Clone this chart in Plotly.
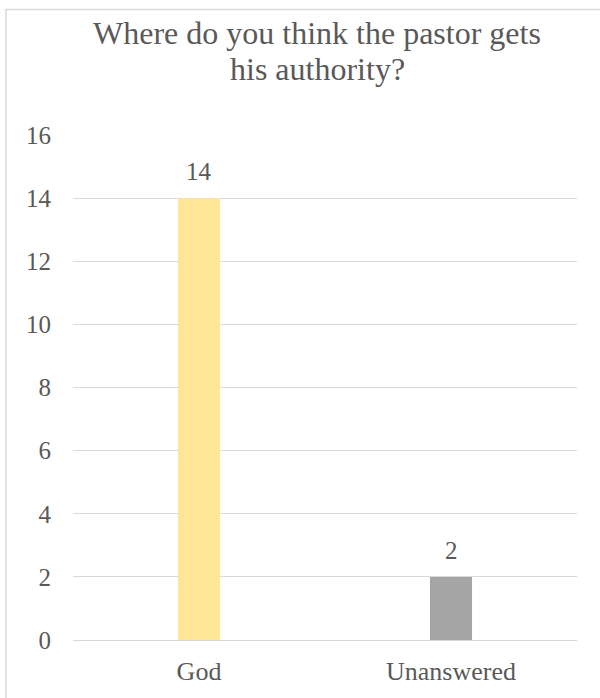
import plotly.graph_objects as go

categories = ["God", "Unanswered"]
counts = [14, 2]
bar_colors = ["#FFE699", "#A5A5A5"]
y_ticks = [0, 2, 4, 6, 8, 10, 12, 14, 16]
title_lines = ["Where do you think the pastor gets", "his authority?"]

W, H = 600, 698
ml, mr, mt, mb = 73, 23, 135, 56
pw, ph = W - ml - mr, H - mt - mb


def px_to_paper_x(px):
    return (px - ml) / pw


def px_to_paper_y(py):
    return (H - mb - py) / ph


text_color = "#595959"
font_family = "Liberation Serif"

fig = go.Figure(
    go.Bar(
        x=categories,
        y=counts,
        marker=dict(color=bar_colors, line=dict(width=0)),
        cliponaxis=False,
    )
)

# value labels above each bar
for cat, val in zip(categories, counts):
    fig.add_annotation(
        x=cat, y=val, text=str(val), showarrow=False,
        yanchor="bottom", yshift=11,
        font=dict(family=font_family, size=25, color=text_color),
    )

# two-line chart title, placed line by line for tighter leading
for line, center_px in zip(title_lines, [33, 69]):
    fig.add_annotation(
        xref="paper", yref="paper",
        x=px_to_paper_x(317), y=px_to_paper_y(center_px),
        xanchor="center", yanchor="middle",
        text=line, showarrow=False,
        font=dict(family=font_family, size=32, color=text_color),
    )

fig.update_layout(
    width=W,
    height=H,
    margin=dict(l=ml, r=mr, t=mt, b=mb),
    paper_bgcolor="white",
    plot_bgcolor="white",
    bargap=0.833,
    showlegend=False,
    font=dict(family=font_family, color=text_color),
    xaxis=dict(
        showgrid=False,
        showline=False,
        ticks="",
        tickfont=dict(family=font_family, size=26, color=text_color),
        ticklabelstandoff=13,
    ),
    yaxis=dict(
        range=[0, 16],
        tickvals=y_ticks,
        showgrid=True,
        gridcolor="#D9D9D9",
        gridwidth=1,
        zeroline=True,
        zerolinecolor="#D9D9D9",
        zerolinewidth=1,
        showline=False,
        ticks="",
        tickfont=dict(family=font_family, size=25, color=text_color),
        ticklabelstandoff=21,
    ),
    shapes=[
        dict(
            type="rect",
            xref="paper",
            yref="paper",
            x0=px_to_paper_x(6),
            x1=px_to_paper_x(630),
            y0=px_to_paper_y(720),
            y1=px_to_paper_y(9),
            line=dict(color="#D9D9D9", width=1.5),
            fillcolor="rgba(0,0,0,0)",
            layer="below",
        )
    ],
)

fig.write_html("out.html")
